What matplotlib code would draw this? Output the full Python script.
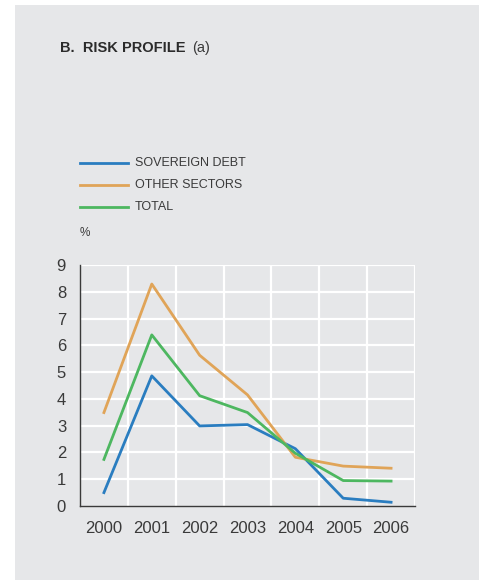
import matplotlib
matplotlib.use('Agg')
import matplotlib.pyplot as plt
from matplotlib.patches import Rectangle

years = ['2000', '2001', '2002', '2003', '2004', '2005', '2006']
sovereign = [0.50, 4.86, 2.99, 3.04, 2.14, 0.29, 0.14]
other = [3.49, 8.29, 5.63, 4.15, 1.82, 1.49, 1.41]
total = [1.74, 6.39, 4.12, 3.49, 1.97, 0.95, 0.93]
series = [
    ('SOVEREIGN DEBT', sovereign, '#2a7dc0'),
    ('OTHER SECTORS', other, '#e0a458'),
    ('TOTAL', total, '#4db760'),
]

BG = '#e6e7e9'
TXT = '#3a3a3a'
plt.rcParams['font.family'] = ['Liberation Sans', 'DejaVu Sans']

fig = plt.figure(figsize=(4.79, 5.80), dpi=100, facecolor='white')
fig.patches.append(Rectangle((15 / 479, 0), 1, 1 - 5 / 580, transform=fig.transFigure,
                             facecolor=BG, edgecolor='none', zorder=-10))

fig.text(60 / 479, 1 - 52 / 580, 'B.  RISK PROFILE', fontsize=10.5, fontweight='bold',
         color='#2b2b2b', va='baseline')
fig.text(192 / 479, 1 - 52 / 580, '(a)', fontsize=10.5, color=TXT, va='baseline')

# legend drawn by hand in figure coordinates
for i, (name, vals, col) in enumerate(series):
    y = 1 - (163 + 22 * i) / 580
    fig.lines.append(plt.Line2D([80 / 479, 128 / 479], [y, y], transform=fig.transFigure,
                                color=col, linewidth=2))
    fig.text(135 / 479, y, name, fontsize=9, color=TXT, va='center')

fig.text(80 / 479, 1 - 233 / 580, '%', fontsize=8.5, color=TXT, va='center')

ax = fig.add_axes([80 / 479, 1 - 506 / 580, 335 / 479, 241 / 580])
ax.set_facecolor(BG)
x = list(range(len(years)))
for name, vals, col in series:
    ax.plot(x, vals, color=col, linewidth=2, zorder=3)

ax.set_xlim(-0.5, 6.5)
ax.set_ylim(0, 9)
ax.set_yticks(range(10))
ax.set_xticks(x)
ax.set_xticklabels(years)
for v in range(1, 10):
    ax.axhline(v, color='white', linewidth=1.6, zorder=1)
for v in [0.5, 1.5, 2.5, 3.5, 4.5, 5.5, 6.5]:
    ax.axvline(v, color='white', linewidth=1.6, zorder=1)
for s in ['top', 'right']:
    ax.spines[s].set_visible(False)
for s in ['left', 'bottom']:
    ax.spines[s].set_color(TXT)
    ax.spines[s].set_linewidth(1)
ax.tick_params(length=0, labelsize=12, colors=TXT)
ax.tick_params(axis='x', pad=11)
ax.tick_params(axis='y', pad=10)

fig.savefig('out.png', dpi=100, facecolor='white')
